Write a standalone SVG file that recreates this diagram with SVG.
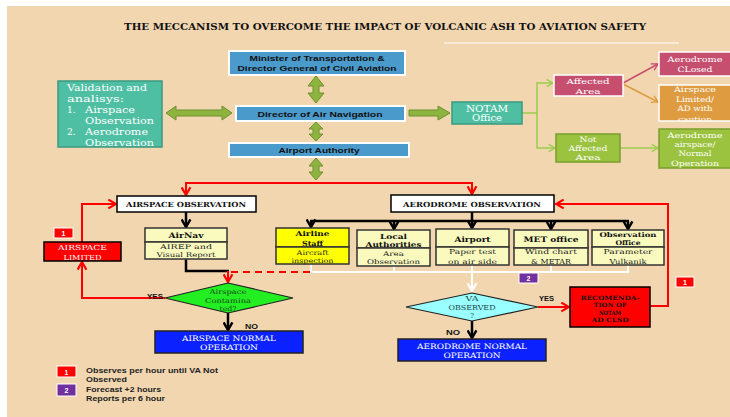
<svg xmlns="http://www.w3.org/2000/svg" width="730" height="417" viewBox="0 0 730 417">
<defs>
<style>
.bg{fill:#F2D6B0}
.blue{fill:#4B9ACC;stroke:#fff;stroke-width:2}
.teal{fill:#4FBFA4;stroke:#3B9A82;stroke-width:1.5}
.pink{fill:#C64F70;stroke:#fff;stroke-width:1.5}
.orange{fill:#DE9B3F;stroke:#fff;stroke-width:1.5}
.lgreen{fill:#9BC33F;stroke:#7A9F2E;stroke-width:1.5}
.garrow{fill:#8DB43E;stroke:#6E9030;stroke-width:1}
.wbox{fill:#fff;stroke:#000;stroke-width:1.5}
.ybox{fill:#FFFF00;stroke:#333;stroke-width:1.5}
.lybox{fill:#FAFABE;stroke:#333;stroke-width:1.5}
.redbox{fill:#FF0000;stroke:#000;stroke-width:1.5}
.bluebox{fill:#0B22FF;stroke:#222;stroke-width:1.5}
.badge1{fill:#FF0000;stroke:#fff;stroke-width:1}
.badge2{fill:#7030A0;stroke:#fff;stroke-width:1}
.sans{font-family:"Liberation Sans",Arial,sans-serif;font-weight:bold;fill:#111}
.serif{font-family:"DejaVu Serif","Liberation Serif",serif}
.sw{font-family:"DejaVu Serif","Liberation Serif",serif;fill:#fff}
.sb{font-family:"DejaVu Serif","Liberation Serif",serif;font-weight:bold;fill:#111}
.sr{font-family:"DejaVu Serif","Liberation Serif",serif;fill:#222}
.bk{fill:none;stroke:#000;stroke-width:2.5}
.rd{fill:none;stroke:#FF0000;stroke-width:2}
.wt{fill:none;stroke:#fff;stroke-width:2}
.gl{fill:none;stroke:#9ACD4C;stroke-width:1.5}
</style>
<marker id="mb" viewBox="0 0 10 10" refX="8" refY="5" markerWidth="11" markerHeight="11" markerUnits="userSpaceOnUse" orient="auto"><path d="M1,1 L8,5 L1,9" fill="none" stroke="#000" stroke-width="2.2"/></marker>
<marker id="mr" viewBox="0 0 10 10" refX="8" refY="5" markerWidth="11" markerHeight="11" markerUnits="userSpaceOnUse" orient="auto"><path d="M1,1 L8,5 L1,9" fill="none" stroke="#FF0000" stroke-width="2"/></marker>
<marker id="mw" viewBox="0 0 10 10" refX="8" refY="5" markerWidth="11" markerHeight="11" markerUnits="userSpaceOnUse" orient="auto"><path d="M1,1 L8,5 L1,9" fill="none" stroke="#fff" stroke-width="2"/></marker>
<marker id="mg" viewBox="0 0 10 10" refX="8" refY="5" markerWidth="9" markerHeight="9" markerUnits="userSpaceOnUse" orient="auto"><path d="M1,1 L8,5 L1,9" fill="none" stroke="#9ACD4C" stroke-width="1.5"/></marker>
<marker id="mp" viewBox="0 0 10 10" refX="8" refY="5" markerWidth="9" markerHeight="9" markerUnits="userSpaceOnUse" orient="auto"><path d="M1,1 L8,5 L1,9" fill="none" stroke="#C64F70" stroke-width="1.5"/></marker>
<marker id="mo" viewBox="0 0 10 10" refX="8" refY="5" markerWidth="9" markerHeight="9" markerUnits="userSpaceOnUse" orient="auto"><path d="M1,1 L8,5 L1,9" fill="none" stroke="#DE9B3F" stroke-width="1.5"/></marker>
<clipPath id="clipLim"><rect x="659" y="85" width="71" height="36"/></clipPath>
</defs>

<rect x="0" y="0" width="730" height="417" fill="#fff"/>
<rect class="bg" x="7" y="6" width="723" height="411"/>

<text class="sb" x="124" y="29.5" font-size="9.5" textLength="522" lengthAdjust="spacingAndGlyphs">THE MECCANISM TO OVERCOME THE IMPACT OF VOLCANIC ASH TO AVIATION SAFETY</text>
<line x1="444" y1="43" x2="679" y2="43" stroke="#fff" stroke-width="1"/>

<g id="connectors">
  <!-- green block arrows -->
  <path class="garrow" d="M316,76 L324,86 L319,86 L319,93 L324,93 L316,103 L308,93 L313,93 L313,86 L308,86 Z"/>
  <path class="garrow" d="M316,122 L323,129 L319,129 L319,134 L323,134 L316,141 L309,134 L313,134 L313,129 L309,129 Z"/>
  <path class="garrow" d="M316,158 L323,166 L319,166 L319,172 L323,172 L316,180 L309,172 L313,172 L313,166 L309,166 Z"/>
  <path class="garrow" d="M166,113 L176,106 L176,110 L222,110 L222,106 L232,113 L222,120 L222,116 L176,116 L176,120 Z"/>
  <path class="garrow" d="M409,110 L438,110 L438,106 L450,113 L438,120 L438,116 L409,116 Z"/>
  <!-- NOTAM branches -->
  <path class="gl" d="M522,113 H537"/>
  <path class="gl" d="M537,113 V83 H553" marker-end="url(#mg)"/>
  <path class="gl" d="M537,113 V148 H555" marker-end="url(#mg)"/>
  <path fill="none" stroke="#C64F70" stroke-width="1.5" d="M623,83 L658,64" marker-end="url(#mp)"/>
  <path fill="none" stroke="#DE9B3F" stroke-width="1.5" d="M623,84 L658,102" marker-end="url(#mo)"/>
  <path class="gl" d="M620,148 H658" marker-end="url(#mg)"/>
  <!-- red top split -->
  <path class="rd" d="M316,183 H186 V195" marker-end="url(#mr)"/>
  <path class="rd" d="M316,183 H472 V194" marker-end="url(#mr)"/>
  <!-- right red loop -->
  <path class="rd" d="M650,306 H668 V204 H556" marker-end="url(#mr)"/>
  <!-- left red loop -->
  <path class="rd" d="M165,298 H82 V262" marker-end="url(#mr)"/>
  <path class="rd" d="M82,242 V204 H116" marker-end="url(#mr)"/>
  <!-- airspace flow -->
  <path class="bk" d="M186,212 V227" marker-end="url(#mb)"/>
  <path class="bk" d="M186,259 V271 H229"/>
  <path class="rd" d="M228,271 V282" marker-end="url(#mr)"/>
  <path class="rd" d="M231,272 H311" stroke-dasharray="7,5"/>
  <path class="bk" d="M228,313 V330" marker-end="url(#mb)"/>
  <!-- aerodrome flow -->
  <path class="bk" d="M472,212 V221"/>
  <path class="bk" d="M310,221 H629"/>
  <path class="bk" d="M311,221 V227" marker-end="url(#mb)"/>
  <path class="bk" d="M394,221 V229" marker-end="url(#mb)"/>
  <path class="bk" d="M472,221 V228" marker-end="url(#mb)"/>
  <path class="bk" d="M551,221 V229" marker-end="url(#mb)"/>
  <path class="bk" d="M628,221 V229" marker-end="url(#mb)"/>
  <path class="wt" d="M311,264 V272 H629"/>
  <path class="wt" d="M394,266 V272"/>
  <path class="wt" d="M551,265 V272"/>
  <path class="wt" d="M628,265 V272"/>
  <path class="wt" d="M472,265 V291" marker-end="url(#mw)"/>
  <path class="rd" d="M538,307 H569" marker-end="url(#mr)"/>
  <path class="bk" d="M472,321 V338" marker-end="url(#mb)"/>
  <text class="sans" x="147" y="299" font-size="7" textLength="16" lengthAdjust="spacingAndGlyphs">YES</text>
  <text class="sans" x="245" y="329" font-size="7" textLength="13" lengthAdjust="spacingAndGlyphs">NO</text>
  <text class="sans" x="539" y="301" font-size="7" textLength="15" lengthAdjust="spacingAndGlyphs">YES</text>
  <text class="sans" x="446" y="335" font-size="7" textLength="14" lengthAdjust="spacingAndGlyphs">NO</text>
</g>

<g id="minister">
  <rect class="blue" x="229" y="51" width="176" height="24"/>
  <text class="sans" x="317" y="61" font-size="8" text-anchor="middle" textLength="135" lengthAdjust="spacingAndGlyphs">Minister of Transportation &amp;</text>
  <text class="sans" x="317" y="71" font-size="8" text-anchor="middle" textLength="159" lengthAdjust="spacingAndGlyphs">Director General of Civil Aviation</text>
</g>
<g id="director">
  <rect class="blue" x="236" y="106" width="169" height="15"/>
  <text class="sans" x="320" y="116.5" font-size="8" text-anchor="middle" textLength="125" lengthAdjust="spacingAndGlyphs">Director  of Air Navigation</text>
</g>
<g id="airport-authority">
  <rect class="blue" x="229" y="143" width="180" height="14"/>
  <text class="sans" x="319" y="153" font-size="8" text-anchor="middle" textLength="81" lengthAdjust="spacingAndGlyphs">Airport Authority</text>
</g>
<g id="validation">
  <rect class="teal" x="58" y="81" width="104" height="66"/>
  <text class="sw" x="67" y="90.5" font-size="9" textLength="80" lengthAdjust="spacingAndGlyphs">Validation and</text>
  <text class="sw" x="67" y="101.5" font-size="9" textLength="57" lengthAdjust="spacingAndGlyphs">analisys:</text>
  <text class="sw" x="67" y="112.5" font-size="9">1.</text>
  <text class="sw" x="85" y="112.5" font-size="9" textLength="50" lengthAdjust="spacingAndGlyphs">Airspace</text>
  <text class="sw" x="85" y="123.5" font-size="9" textLength="69" lengthAdjust="spacingAndGlyphs">Observation</text>
  <text class="sw" x="67" y="134.5" font-size="9">2.</text>
  <text class="sw" x="85" y="134.5" font-size="9" textLength="63" lengthAdjust="spacingAndGlyphs">Aerodrome</text>
  <text class="sw" x="85" y="145.5" font-size="9" textLength="69" lengthAdjust="spacingAndGlyphs">Observation</text>
</g>
<g id="notam">
  <rect class="teal" x="452" y="102" width="70" height="22"/>
  <text class="sw" x="487" y="111.5" font-size="8.5" text-anchor="middle" textLength="42" lengthAdjust="spacingAndGlyphs">NOTAM</text>
  <text class="sw" x="487" y="121" font-size="8.5" text-anchor="middle" textLength="30" lengthAdjust="spacingAndGlyphs">Office</text>
</g>
<g id="affected">
  <rect class="pink" x="554" y="75" width="69" height="21"/>
  <text class="sw" x="588" y="83.5" font-size="8" text-anchor="middle" textLength="43" lengthAdjust="spacingAndGlyphs">Affected</text>
  <text class="sw" x="588" y="94" font-size="8" text-anchor="middle" textLength="25" lengthAdjust="spacingAndGlyphs">Area</text>
</g>
<g id="not-affected">
  <rect class="lgreen" x="556" y="134" width="64" height="28"/>
  <text class="sw" x="588" y="142" font-size="7.5" text-anchor="middle" textLength="17" lengthAdjust="spacingAndGlyphs">Not</text>
  <text class="sw" x="588" y="151" font-size="7.5" text-anchor="middle" textLength="39" lengthAdjust="spacingAndGlyphs">Affected</text>
  <text class="sw" x="588" y="160" font-size="7.5" text-anchor="middle" textLength="25" lengthAdjust="spacingAndGlyphs">Area</text>
</g>
<g id="ad-closed">
  <rect class="pink" x="659" y="52" width="73" height="24"/>
  <text class="sw" x="695" y="62" font-size="7.5" text-anchor="middle" textLength="55" lengthAdjust="spacingAndGlyphs">Aerodrome</text>
  <text class="sw" x="695" y="72" font-size="7.5" text-anchor="middle" textLength="35" lengthAdjust="spacingAndGlyphs">CLosed</text>
</g>
<g id="airspace-limited-caution">
  <rect class="orange" x="659" y="85" width="73" height="36"/>
  <g clip-path="url(#clipLim)">
  <text class="sw" x="695" y="92" font-size="7.5" text-anchor="middle" textLength="42" lengthAdjust="spacingAndGlyphs">Airspace</text>
  <text class="sw" x="695" y="101.5" font-size="7.5" text-anchor="middle" textLength="38" lengthAdjust="spacingAndGlyphs">Limited/</text>
  <text class="sw" x="695" y="111" font-size="7.5" text-anchor="middle" textLength="35" lengthAdjust="spacingAndGlyphs">AD with</text>
  <text class="sw" x="695" y="121.5" font-size="7.5" text-anchor="middle" textLength="34" lengthAdjust="spacingAndGlyphs">caution</text>
  </g>
</g>
<g id="ad-normal">
  <rect class="lgreen" x="659" y="129" width="73" height="39"/>
  <text class="sw" x="695" y="138" font-size="7.5" text-anchor="middle" textLength="55" lengthAdjust="spacingAndGlyphs">Aerodrome</text>
  <text class="sw" x="695" y="147" font-size="7.5" text-anchor="middle" textLength="41" lengthAdjust="spacingAndGlyphs">airspace/</text>
  <text class="sw" x="695" y="156" font-size="7.5" text-anchor="middle" textLength="33" lengthAdjust="spacingAndGlyphs">Normal</text>
  <text class="sw" x="695" y="166" font-size="7.5" text-anchor="middle" textLength="48" lengthAdjust="spacingAndGlyphs">Operation</text>
</g>

<g id="airspace-observation">
  <rect class="wbox" x="117" y="196" width="139" height="16"/>
  <text class="sb" x="186" y="207" font-size="7" text-anchor="middle" textLength="120" lengthAdjust="spacingAndGlyphs">AIRSPACE OBSERVATION</text>
</g>
<g id="aerodrome-observation">
  <rect class="wbox" x="391" y="195" width="163" height="17"/>
  <text class="sb" x="472" y="206.5" font-size="7" text-anchor="middle" textLength="138" lengthAdjust="spacingAndGlyphs">AERODROME OBSERVATION</text>
</g>
<g id="airnav">
  <rect class="lybox" x="145" y="228" width="82" height="14"/>
  <rect class="lybox" x="145" y="242" width="82" height="17"/>
  <text class="sb" x="186" y="238" font-size="7.5" text-anchor="middle" textLength="35" lengthAdjust="spacingAndGlyphs">AirNav</text>
  <text class="sr" x="186" y="249" font-size="6.5" text-anchor="middle" textLength="52" lengthAdjust="spacingAndGlyphs">AIREP and</text>
  <text class="sr" x="186" y="257" font-size="6.5" text-anchor="middle" textLength="59" lengthAdjust="spacingAndGlyphs">Visual Report</text>
</g>
<g id="airline-staff">
  <rect class="ybox" x="276" y="228" width="73" height="19"/>
  <rect class="ybox" x="276" y="247" width="73" height="17"/>
  <text class="sb" x="312.5" y="236" font-size="7" text-anchor="middle" textLength="34" lengthAdjust="spacingAndGlyphs">Airline</text>
  <text class="sb" x="312.5" y="245.5" font-size="7" text-anchor="middle" textLength="21" lengthAdjust="spacingAndGlyphs">Staff</text>
  <text class="sr" x="312.5" y="254.5" font-size="6.5" text-anchor="middle" textLength="32" lengthAdjust="spacingAndGlyphs">Aircraft</text>
  <text class="sr" x="312.5" y="262.5" font-size="6.5" text-anchor="middle" textLength="42" lengthAdjust="spacingAndGlyphs">inspection</text>
</g>
<g id="local-authorities">
  <rect class="lybox" x="357" y="230" width="73" height="18"/>
  <rect class="lybox" x="357" y="248" width="73" height="18"/>
  <text class="sb" x="393.5" y="238.5" font-size="7" text-anchor="middle" textLength="27" lengthAdjust="spacingAndGlyphs">Local</text>
  <text class="sb" x="393.5" y="247" font-size="7" text-anchor="middle" textLength="56" lengthAdjust="spacingAndGlyphs">Authorities</text>
  <text class="sr" x="393.5" y="255.5" font-size="6.5" text-anchor="middle" textLength="21" lengthAdjust="spacingAndGlyphs">Area</text>
  <text class="sr" x="393.5" y="264" font-size="6.5" text-anchor="middle" textLength="53" lengthAdjust="spacingAndGlyphs">Observation</text>
</g>
<g id="airport">
  <rect class="lybox" x="436" y="229" width="73" height="18"/>
  <rect class="lybox" x="436" y="247" width="73" height="18"/>
  <text class="sb" x="472.5" y="241.5" font-size="7.5" text-anchor="middle" textLength="36" lengthAdjust="spacingAndGlyphs">Airport</text>
  <text class="sr" x="472.5" y="254" font-size="6.8" text-anchor="middle" textLength="47" lengthAdjust="spacingAndGlyphs">Paper test</text>
  <text class="sr" x="472.5" y="263.5" font-size="6.8" text-anchor="middle" textLength="49" lengthAdjust="spacingAndGlyphs">on air side</text>
</g>
<g id="met-office">
  <rect class="lybox" x="514" y="230" width="74" height="18"/>
  <rect class="lybox" x="514" y="248" width="74" height="17"/>
  <text class="sb" x="551" y="242" font-size="7.5" text-anchor="middle" textLength="55" lengthAdjust="spacingAndGlyphs">MET office</text>
  <text class="sr" x="551" y="254" font-size="6.8" text-anchor="middle" textLength="52" lengthAdjust="spacingAndGlyphs">Wind chart</text>
  <text class="sr" x="551" y="263.5" font-size="6.8" text-anchor="middle" textLength="40" lengthAdjust="spacingAndGlyphs">&amp; METAR</text>
</g>
<g id="observation-office">
  <rect class="lybox" x="592" y="230" width="72" height="17"/>
  <rect class="lybox" x="592" y="247" width="72" height="18"/>
  <text class="sb" x="628" y="237" font-size="6.5" text-anchor="middle" textLength="57" lengthAdjust="spacingAndGlyphs">Observation</text>
  <text class="sb" x="628" y="245" font-size="6.5" text-anchor="middle" textLength="25" lengthAdjust="spacingAndGlyphs">Office</text>
  <text class="sr" x="628" y="254" font-size="6.8" text-anchor="middle" textLength="49" lengthAdjust="spacingAndGlyphs">Parameter</text>
  <text class="sr" x="628" y="263.5" font-size="6.8" text-anchor="middle" textLength="37" lengthAdjust="spacingAndGlyphs">Vulkanik</text>
</g>
<g id="airspace-limited">
  <rect class="redbox" x="44" y="242" width="77" height="19"/>
  <text class="sw" x="82.5" y="250" font-size="7" text-anchor="middle" textLength="49" lengthAdjust="spacingAndGlyphs">AIRSPACE</text>
  <text class="sw" x="82.5" y="259.5" font-size="7" text-anchor="middle" textLength="38" lengthAdjust="spacingAndGlyphs">LIMITED</text>
</g>
<g id="badge-left">
  <rect class="badge1" x="54" y="228" width="19" height="10"/>
  <text class="sans" x="63.5" y="236" font-size="7" text-anchor="middle" fill="#fff" style="fill:#fff">1</text>
</g>
<g id="badge-right">
  <rect class="badge1" x="676" y="277" width="18" height="10"/>
  <text class="sans" x="685" y="285" font-size="7" text-anchor="middle" style="fill:#fff">1</text>
</g>
<g id="badge-2">
  <rect class="badge2" x="519" y="273" width="19" height="10"/>
  <text class="sans" x="528.5" y="281" font-size="7" text-anchor="middle" style="fill:#fff">2</text>
</g>
<g id="airspace-contaminated">
  <polygon points="228,283 293,298 228,313 165,298" fill="#22EE22" stroke="#222" stroke-width="1.2"/>
  <text class="serif" x="228" y="294" font-size="6.8" text-anchor="middle" fill="#1E3F1E" textLength="37" lengthAdjust="spacingAndGlyphs">Airspace</text>
  <text class="serif" x="228" y="302.5" font-size="6.8" text-anchor="middle" fill="#1E3F1E" textLength="46" lengthAdjust="spacingAndGlyphs">Contamina</text>
  <text class="serif" x="228" y="311" font-size="6.8" text-anchor="middle" fill="#1E3F1E" textLength="17" lengthAdjust="spacingAndGlyphs">ted?</text>
</g>
<g id="airspace-normal">
  <rect class="bluebox" x="155" y="331" width="148" height="22"/>
  <text class="sw" x="229" y="341" font-size="7.5" text-anchor="middle" textLength="94" lengthAdjust="spacingAndGlyphs">AIRSPACE NORMAL</text>
  <text class="sw" x="229" y="350" font-size="7.5" text-anchor="middle" textLength="58" lengthAdjust="spacingAndGlyphs">OPERATION</text>
</g>
<g id="va-observed">
  <polygon points="472,293 538,307 472,321 406,307" fill="#99FFFF" stroke="#222" stroke-width="1.2"/>
  <text class="serif" x="472" y="301" font-size="6.8" text-anchor="middle" fill="#1F4646" textLength="13" lengthAdjust="spacingAndGlyphs">VA</text>
  <text class="serif" x="472" y="310" font-size="6.8" text-anchor="middle" fill="#1F4646" textLength="47" lengthAdjust="spacingAndGlyphs">OBSERVED</text>
  <text class="serif" x="472" y="318" font-size="6.8" text-anchor="middle" fill="#1F4646">?</text>
</g>
<g id="recommendation">
  <rect class="redbox" x="570" y="287" width="80" height="40"/>
  <text class="sb" x="610" y="299.5" font-size="5.8" text-anchor="middle" textLength="59" lengthAdjust="spacingAndGlyphs">RECOMENDA-</text>
  <text class="sb" x="610" y="307" font-size="5.8" text-anchor="middle" textLength="33" lengthAdjust="spacingAndGlyphs">TION OF</text>
  <text class="sb" x="610" y="314.5" font-size="5.8" text-anchor="middle" textLength="22" lengthAdjust="spacingAndGlyphs">NOTAM</text>
  <text class="sb" x="610" y="322" font-size="5.8" text-anchor="middle" textLength="37" lengthAdjust="spacingAndGlyphs">AD CLSD</text>
</g>
<g id="aerodrome-normal">
  <rect class="bluebox" x="398" y="339" width="148" height="22"/>
  <text class="sw" x="472" y="348.5" font-size="7.5" text-anchor="middle" textLength="110" lengthAdjust="spacingAndGlyphs">AERODROME NORMAL</text>
  <text class="sw" x="472" y="358" font-size="7.5" text-anchor="middle" textLength="57" lengthAdjust="spacingAndGlyphs">OPERATION</text>
</g>
<g id="legend">
  <rect class="badge1" x="57" y="366" width="19" height="11"/>
  <text class="sans" x="66.5" y="374.5" font-size="7" text-anchor="middle" style="fill:#fff">1</text>
  <rect class="badge2" x="57" y="384" width="19" height="12"/>
  <text class="sans" x="66.5" y="393" font-size="7" text-anchor="middle" style="fill:#fff">2</text>
  <text class="sans" x="86" y="373" font-size="7.5" textLength="132" lengthAdjust="spacingAndGlyphs" style="fill:#222">Observes per hour until VA Not</text>
  <text class="sans" x="86" y="382" font-size="7.5" textLength="41" lengthAdjust="spacingAndGlyphs" style="fill:#222">Observed</text>
  <text class="sans" x="86" y="392" font-size="7.5" textLength="75" lengthAdjust="spacingAndGlyphs" style="fill:#222">Forecast +2 hours</text>
  <text class="sans" x="86" y="401" font-size="7.5" textLength="79" lengthAdjust="spacingAndGlyphs" style="fill:#222">Reports per 6 hour</text>
</g>
</svg>
